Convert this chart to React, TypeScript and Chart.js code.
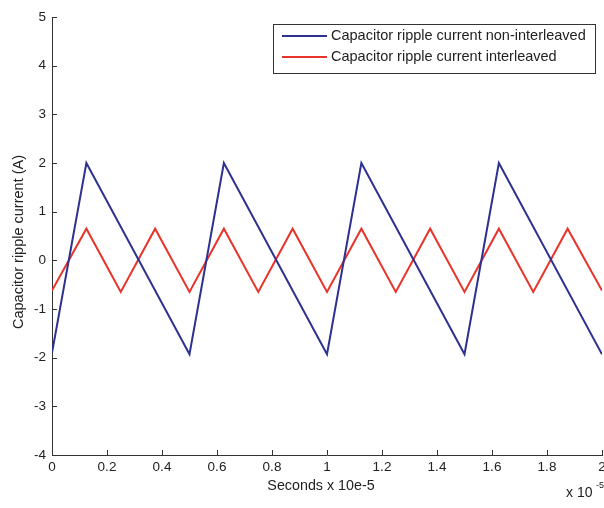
import React, { useEffect, useRef } from "react";
import { Chart, registerables } from "chart.js";

Chart.register(...registerables);

const blueX = [0, 0.125, 0.5, 0.625, 1.0, 1.125, 1.5, 1.625, 2.0];
const blueY = [-1.9, 2.0, -1.93, 2.0, -1.93, 2.0, -1.93, 2.0, -1.93];
const redX = [0, 0.125, 0.25, 0.375, 0.5, 0.625, 0.75, 0.875, 1.0, 1.125, 1.25, 1.375, 1.5, 1.625, 1.75, 1.875, 2.0];
const redY = [-0.62, 0.65, -0.65, 0.65, -0.65, 0.65, -0.65, 0.65, -0.65, 0.65, -0.65, 0.65, -0.65, 0.65, -0.65, 0.65, -0.62];
const seriesNames = ["Capacitor ripple current non-interleaved", "Capacitor ripple current interleaved"];
const xTitle = "Seconds x 10e-5";
const yTitle = "Capacitor ripple current (A)";

const BLUE = "#2d3190";
const RED = "#e8352c";
const FONT = "Liberation Sans, Arial, sans-serif";

const decor = {
  id: "decor",
  afterDraw(chart: any) {
    const ctx = chart.ctx;
    const xs = chart.scales.x;
    const ys = chart.scales.y;
    const area = chart.chartArea;
    ctx.save();
    // inward ticks
    ctx.strokeStyle = "#333";
    ctx.lineWidth = 1;
    xs.ticks.forEach((t: any) => {
      const px = Math.round(xs.getPixelForValue(t.value)) + 0.5;
      ctx.beginPath();
      ctx.moveTo(px, area.bottom);
      ctx.lineTo(px, area.bottom - 5);
      ctx.stroke();
    });
    ys.ticks.forEach((t: any) => {
      const py = Math.round(ys.getPixelForValue(t.value)) + 0.5;
      ctx.beginPath();
      ctx.moveTo(area.left, py);
      ctx.lineTo(area.left + 5, py);
      ctx.stroke();
    });
    // titles
    ctx.fillStyle = "#222";
    ctx.font = `14.3px ${FONT}`;
    ctx.textAlign = "center";
    ctx.textBaseline = "middle";
    ctx.fillText(xTitle, 321, 486);
    ctx.save();
    ctx.translate(19, 242);
    ctx.rotate(-Math.PI / 2);
    ctx.font = `14.5px ${FONT}`;
    ctx.fillText(yTitle, 0, 0);
    ctx.restore();
    // exponent
    ctx.textAlign = "left";
    ctx.font = `14px ${FONT}`;
    ctx.fillText("x 10", 566, 493);
    ctx.font = `9px ${FONT}`;
    ctx.fillText("-5", 596, 486);
    // legend
    const lx = 273, ly = 24, lw = 322, lh = 49;
    ctx.fillStyle = "#fff";
    ctx.fillRect(lx, ly, lw, lh);
    ctx.strokeStyle = "#333";
    ctx.lineWidth = 1;
    ctx.strokeRect(lx + 0.5, ly + 0.5, lw, lh);
    const rows = [
      { c: BLUE, t: seriesNames[0], y: ly + 12 },
      { c: RED, t: seriesNames[1], y: ly + 33 },
    ];
    ctx.font = `14.5px ${FONT}`;
    rows.forEach((r) => {
      ctx.strokeStyle = r.c;
      ctx.lineWidth = 2;
      ctx.beginPath();
      ctx.moveTo(lx + 9, r.y);
      ctx.lineTo(lx + 54, r.y);
      ctx.stroke();
      ctx.fillStyle = "#222";
      ctx.textAlign = "left";
      ctx.fillText(r.t, lx + 58, r.y);
    });
    ctx.restore();
  },
};

export default function App() {
  const ref = useRef<HTMLCanvasElement>(null);
  useEffect(() => {
    if (!ref.current) return;
    const chart = new Chart(ref.current, {
      type: "line",
      data: {
        datasets: [
          {
            label: seriesNames[0],
            data: blueX.map((x, i) => ({ x, y: blueY[i] })),
            borderColor: BLUE,
            borderWidth: 2,
            pointRadius: 0,
            tension: 0,
            fill: false,
          },
          {
            label: seriesNames[1],
            data: redX.map((x, i) => ({ x, y: redY[i] })),
            borderColor: RED,
            borderWidth: 2,
            pointRadius: 0,
            tension: 0,
            fill: false,
          },
        ],
      },
      options: {
        animation: false,
        responsive: false,
        maintainAspectRatio: false,
        layout: { padding: { top: 17, right: 10, left: 0, bottom: 0 } },
        plugins: { legend: { display: false }, tooltip: { enabled: false } },
        scales: {
          x: {
            type: "linear",
            min: 0,
            max: 2,
            ticks: {
              stepSize: 0.2,
              color: "#222",
              font: { size: 13.5, family: FONT },
              padding: 4,
              maxRotation: 0,
              autoSkip: false,
              callback: (v: any) => String(Math.round(Number(v) * 10) / 10),
            },
            grid: { drawOnChartArea: false, drawTicks: false },
            border: { color: "#333", width: 1 },
            afterFit: (s: any) => {
              s.height = 53;
            },
          },
          y: {
            min: -4,
            max: 5,
            ticks: {
              stepSize: 1,
              color: "#222",
              font: { size: 13.5, family: FONT },
              padding: 6,
            },
            grid: { drawOnChartArea: false, drawTicks: false },
            border: { color: "#333", width: 1 },
            afterFit: (s: any) => {
              s.width = 52;
            },
          },
        },
      },
      plugins: [decor],
    });
    return () => chart.destroy();
  }, []);
  return (
    <div style={{ position: "fixed", left: 0, top: 0, width: 604, height: 508, background: "#fff", overflow: "hidden" }}>
      <canvas ref={ref} width={612} height={508} style={{ display: "block" }} />
    </div>
  );
}
